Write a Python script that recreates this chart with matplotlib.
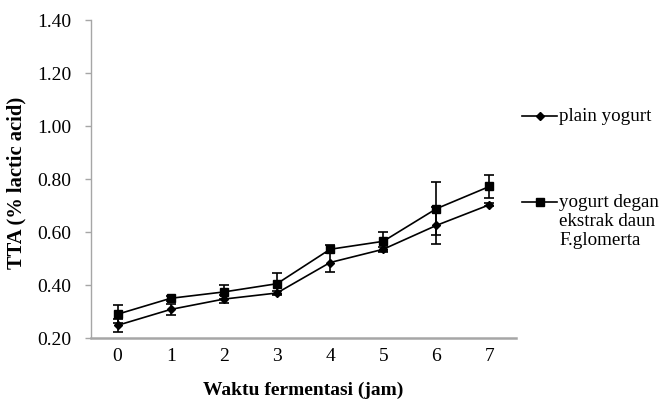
import matplotlib
matplotlib.use("Agg")
import matplotlib.pyplot as plt
from matplotlib.lines import Line2D

plt.rcParams['font.family'] = ['Liberation Serif', 'DejaVu Serif']

hours = [0, 1, 2, 3, 4, 5, 6, 7]
plain = [0.248, 0.308, 0.347, 0.370, 0.485, 0.535, 0.625, 0.703]
plain_err = [0.025, 0.02, 0.015, 0.008, 0.035, 0.01, 0.07, 0.005]
ekstrak = [0.290, 0.350, 0.374, 0.405, 0.535, 0.565, 0.688, 0.772]
ekstrak_err = [0.035, 0.01, 0.025, 0.04, 0.015, 0.035, 0.10, 0.045]
yticks = [0.20, 0.40, 0.60, 0.80, 1.00, 1.20, 1.40]
label_plain = "plain yogurt"
label_ekstrak = "yogurt degan\nekstrak daun\nF.glomerta"

FS = 14

fig = plt.figure(figsize=(6.61, 4.01), dpi=100)
ax = fig.add_axes([0.1377, 0.157, 0.643, 0.793])

ax.errorbar(hours, plain, yerr=plain_err, color='black', marker='D', markersize=4.5,
            lw=1.2, capsize=3.5, elinewidth=1.2, capthick=1.2)
ax.errorbar(hours, ekstrak, yerr=ekstrak_err, color='black', marker='s', markersize=5.5,
            lw=1.2, capsize=3.5, elinewidth=1.2, capthick=1.2)

ax.set_xlim(-0.5, 7.5)
ax.set_ylim(0.20, 1.40)
ax.set_yticks(yticks)
ax.set_yticklabels([f"{v:.2f}" for v in yticks], fontsize=FS)
ax.set_xticks(hours)
ax.set_xticklabels([str(h) for h in hours], fontsize=FS)
ax.tick_params(axis='x', length=0, pad=7)
ax.tick_params(axis='y', length=4, color='#a6a6a6', width=1, pad=10)
for s in ['top', 'right']:
    ax.spines[s].set_visible(False)
ax.spines['left'].set_color('#a6a6a6')
ax.spines['bottom'].set_color('#a6a6a6')
ax.spines['left'].set_linewidth(1.0)
ax.spines['bottom'].set_linewidth(1.8)

ax.set_xlabel("Waktu fermentasi (jam)", fontsize=FS, fontweight='bold', labelpad=12)
ax.set_ylabel("TTA (% lactic acid)", fontsize=14.8, fontweight='bold', labelpad=8)
ax.yaxis.label.set_y(0.487)

W, H = 661, 401
def fx(px):
    return px / W
def fy(py):
    return 1 - py / H

# legend drawn manually
for (ypx, mk, ms, lab) in [(116, 'D', 4.5, label_plain), (202, 's', 5.5, label_ekstrak)]:
    fig.add_artist(Line2D([fx(522), fx(557)], [fy(ypx), fy(ypx)], color='black', lw=1.2,
                          transform=fig.transFigure))
    fig.add_artist(Line2D([fx(539.5)], [fy(ypx)], color='black', marker=mk, markersize=ms,
                          transform=fig.transFigure))
    fig.text(fx(559), fy(ypx - 8), lab, fontsize=13.7, va='top', ha='left',
             linespacing=1.17, transform=fig.transFigure)

fig.savefig("out.png", dpi=100)
